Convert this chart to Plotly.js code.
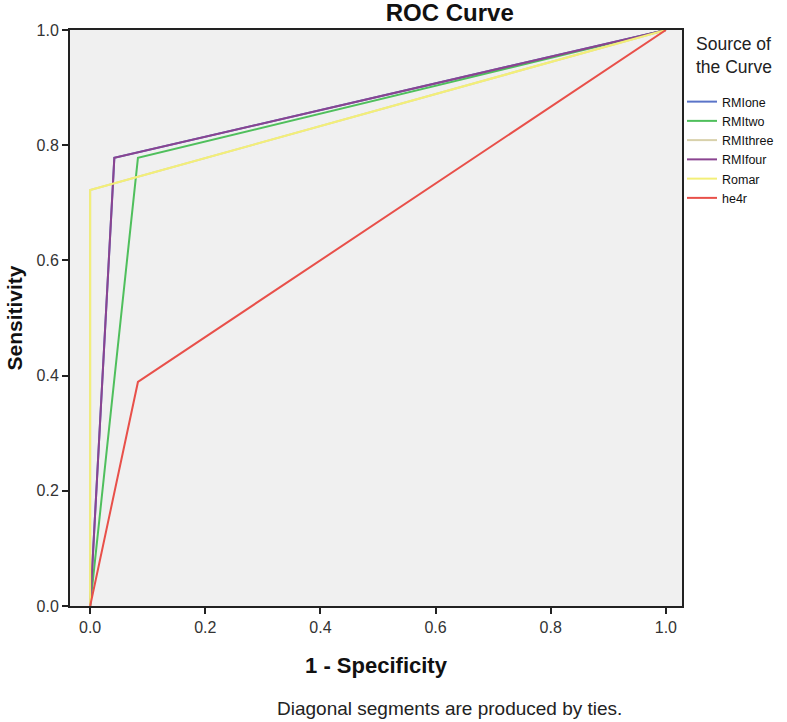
<!DOCTYPE html>
<html>
<head>
<meta charset="utf-8">
<script src="https://cdn.plot.ly/plotly-3.0.1.min.js"></script>
<style>html,body{margin:0;padding:0;background:#fff;}#chart{width:787px;height:722px;}</style>
</head>
<body>
<div id="chart"></div>
<script>
// Series names and colours
const seriesNames = ["RMIone", "RMItwo", "RMIthree", "RMIfour", "Romar", "he4r"];
const seriesColors = ["#5a74c8", "#4fbf5c", "#d8d1ab", "#8a4490", "#f3ef78", "#e8504a"];
// ROC points (1 - specificity, sensitivity)
const rmioneX = [0, 0.042, 1];
const rmioneY = [0, 0.778, 1];
const rmitwoX = [0, 0.083, 1];
const rmitwoY = [0, 0.778, 1];
const rmithreeX = [0, 0, 1];
const rmithreeY = [0, 0.722, 1];
const rmifourX = [0, 0.042, 1];
const rmifourY = [0, 0.778, 1];
const romarX = [0, 0, 1];
const romarY = [0, 0.722, 1];
const he4rX = [0, 0.083, 1];
const he4rY = [0, 0.389, 1];
const tickVals = [0, 0.2, 0.4, 0.6, 0.8, 1.0];
const tickText = ["0.0", "0.2", "0.4", "0.6", "0.8", "1.0"];

const xs = [rmioneX, rmitwoX, rmithreeX, rmifourX, romarX, he4rX];
const ys = [rmioneY, rmitwoY, rmithreeY, rmifourY, romarY, he4rY];

const FONT = "'Liberation Sans', Arial, sans-serif";

const traces = seriesNames.map((n, i) => ({
  type: "scatter", mode: "lines", name: n,
  x: xs[i], y: ys[i],
  line: {color: seriesColors[i], width: 2}
}));

const layout = {
  width: 787, height: 722,
  margin: {l: 70, r: 103, t: 30, b: 116},
  paper_bgcolor: "#ffffff",
  plot_bgcolor: "#f0f0f0",
  font: {family: FONT, color: "#222"},
  title: {text: "<b>ROC Curve</b>", font: {family: FONT, size: 24, color: "#111"},
          xref: "paper", x: 0.6205, xanchor: "center", yref: "container", y: 1 - 13/722, yanchor: "middle"},
  xaxis: {
    range: [-0.035, 1.028], tickvals: tickVals, ticktext: tickText,
    showgrid: false, zeroline: false,
    showline: true, mirror: true, linecolor: "#222", linewidth: 2,
    ticks: "outside", ticklen: 6, tickwidth: 2, tickcolor: "#222",
    tickfont: {family: FONT, size: 16, color: "#333"},
    title: {text: "<b>1 - Specificity</b>", font: {family: FONT, size: 22, color: "#111"}, standoff: 22}
  },
  yaxis: {
    range: [0, 1], tickvals: tickVals, ticktext: tickText,
    showgrid: false, zeroline: false,
    showline: true, mirror: true, linecolor: "#222", linewidth: 2,
    ticks: "outside", ticklen: 6, tickwidth: 2, tickcolor: "#222",
    tickfont: {family: FONT, size: 16, color: "#333"},
    title: {text: "<b>Sensitivity</b>", font: {family: FONT, size: 21, color: "#111"}, standoff: 8}
  },
  showlegend: true,
  legend: {
    xref: "container", yref: "container",
    x: 682 / 787, xanchor: "left", y: 1 - 87 / 722, yanchor: "top",
    bgcolor: "rgba(0,0,0,0)",
    font: {family: FONT, size: 12.5, color: "#111"},
    tracegroupgap: 0, itemwidth: 30
  },
  annotations: [
    {
      text: "Source of<br>the Curve",
      xref: "paper", yref: "paper", x: (696 - 70) / 614, y: 1 - (55 - 30) / 576,
      xanchor: "left", yanchor: "middle", align: "left", showarrow: false,
      font: {family: FONT, size: 17.5, color: "#222"}
    },
    {
      text: "Diagonal segments are produced by ties.",
      xref: "paper", yref: "paper", x: 0.6205, y: (606 - 708) / 576,
      xanchor: "center", yanchor: "middle", showarrow: false,
      font: {family: FONT, size: 19, color: "#222"}
    }
  ]
};

Plotly.newPlot("chart", traces, layout, {displayModeBar: false, staticPlot: true});
</script>
</body>
</html>
